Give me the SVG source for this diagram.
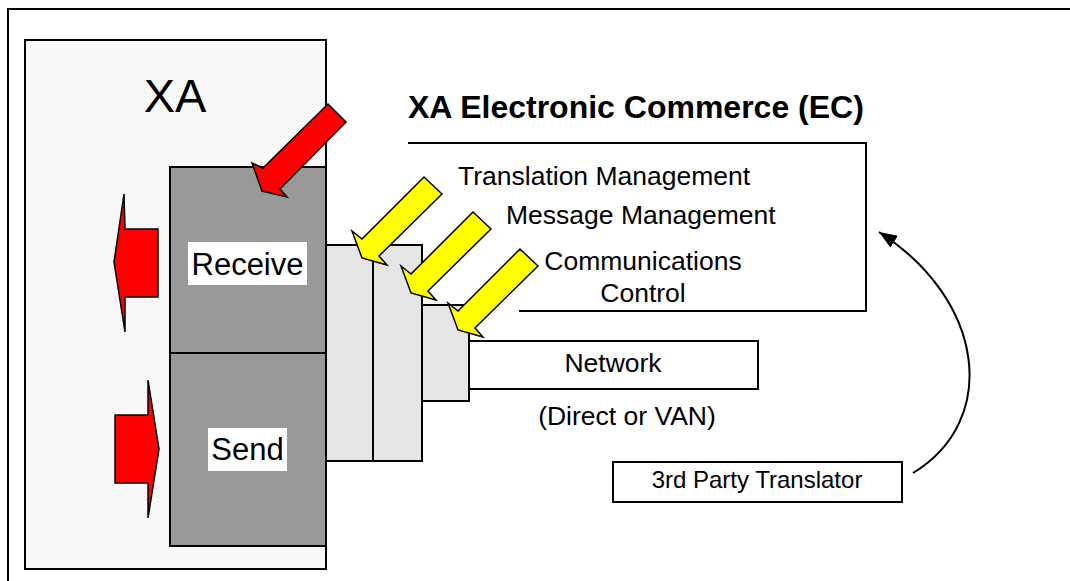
<svg xmlns="http://www.w3.org/2000/svg" xmlns:xlink="http://www.w3.org/1999/xlink" width="1070" height="581" viewBox="0 0 1070 581">
  <defs>
    <style>
      text { font-family: "Liberation Sans", Arial, sans-serif; fill: #000; }
      .box { stroke: #000; stroke-width: 2; }
      .dark { fill: #999999; stroke: #000; stroke-width: 2; }
      .light { fill: #e5e5e5; stroke: #000; stroke-width: 2; }
      .white { fill: #ffffff; stroke: #000; stroke-width: 2; }
      .red { fill: #ff0000; stroke: #000; stroke-width: 1.5; stroke-linejoin: miter; }
      .yellow { fill: #ffff00; stroke: #000; stroke-width: 1.5; stroke-linejoin: miter; }
      .line { fill: none; stroke: #000; stroke-width: 2; }
      .lbl { font-size: 26.5px; }
    </style>
    <pattern id="stipple" width="4" height="4" patternUnits="userSpaceOnUse">
      <rect width="4" height="4" fill="#fbfbfb"/>
      <rect x="0" y="0" width="1" height="1" fill="#e8e8e8"/>
      <rect x="2" y="2" width="1" height="1" fill="#e8e8e8"/>
    </pattern>
    <polygon id="yarrow" points="424,177 442,194 379,256 387,265 362,258 352,231 362,239"/>
    <marker id="ah" markerUnits="userSpaceOnUse" markerWidth="20" markerHeight="16" refX="18" refY="7" orient="auto">
      <path d="M0,0 L18,7 L0,14 z" fill="#000"/>
    </marker>
  </defs>

  <rect width="1070" height="581" fill="#ffffff"/>

  <g id="frame">
    <line x1="7" y1="9" x2="1070" y2="9" class="line"/>
    <line x1="8" y1="8" x2="8" y2="581" class="line"/>
  </g>

  <g id="xa">
    <rect x="25" y="40" width="301" height="529" fill="url(#stipple)" stroke="#000" stroke-width="2"/>
    <text x="175" y="112" font-size="47" text-anchor="middle">XA</text>
  </g>

  <g id="receive">
    <rect x="170" y="167" width="156" height="186" class="dark"/>
    <rect x="188" y="242" width="119" height="43" fill="#ffffff"/>
    <text x="247.5" y="275" font-size="31" text-anchor="middle">Receive</text>
  </g>

  <g id="send">
    <rect x="170" y="353" width="156" height="193" class="dark"/>
    <rect x="208" y="428" width="79" height="43" fill="#ffffff"/>
    <text x="247.5" y="460" font-size="31" text-anchor="middle">Send</text>
  </g>

  <g id="layer-translation">
    <rect x="326" y="245" width="47" height="216" class="light"/>
  </g>
  <g id="layer-message">
    <rect x="373" y="245" width="49" height="216" class="light"/>
  </g>
  <g id="layer-communications">
    <rect x="422" y="305" width="47" height="96" class="light"/>
  </g>

  <g id="network">
    <rect x="469" y="341" width="289" height="48" class="white"/>
    <text x="613" y="372" class="lbl" text-anchor="middle">Network</text>
    <text x="627" y="425" class="lbl" text-anchor="middle">(Direct or VAN)</text>
  </g>

  <g id="ec">
    <text x="408" y="118" font-size="32" font-weight="bold">XA Electronic Commerce (EC)</text>
    <polyline points="408,143 866,143 866,311 519,311" class="line"/>
    <text x="458" y="185" class="lbl">Translation Management</text>
    <text x="506" y="224" class="lbl">Message Management</text>
    <text x="643" y="270" class="lbl" text-anchor="middle">Communications</text>
    <text x="643" y="302" class="lbl" text-anchor="middle">Control</text>
  </g>

  <g id="translator">
    <rect x="613" y="462" width="289" height="40" class="white"/>
    <text x="757" y="488" font-size="24" text-anchor="middle">3rd Party Translator</text>
  </g>

  <g id="arrows">
    <polygon class="red" points="328,104 346,122 280,189 287,197 262,191 252,163 263,168"/>
    <polygon class="red" points="114,262 124,194 125,229 158,229 158,297 125,297 125,332"/>
    <polygon class="red" points="115,415 148,415 148,380 159,449 148,518 148,483 115,483"/>
    <use xlink:href="#yarrow" class="yellow"/>
    <use xlink:href="#yarrow" class="yellow" transform="translate(49,35)"/>
    <use xlink:href="#yarrow" class="yellow" transform="translate(96,72)"/>
  </g>

  <g id="connectors">
    <path d="M913,473 C1000,420 985,300 879,232" fill="none" stroke="#000" stroke-width="2" marker-end="url(#ah)"/>
  </g>
</svg>
